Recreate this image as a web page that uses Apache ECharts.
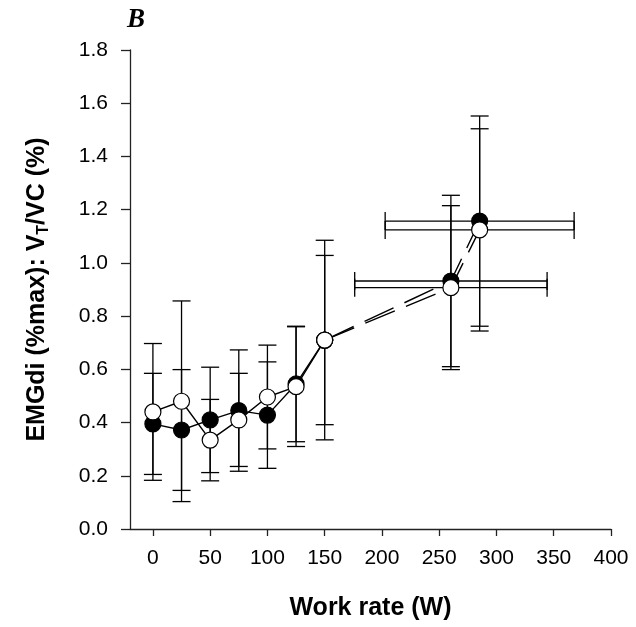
<!DOCTYPE html>
<html>
<head>
<meta charset="utf-8">
<script src="https://cdn.jsdelivr.net/npm/echarts@6/dist/echarts.min.js"></script>
<style>html,body{margin:0;padding:0;background:#fff}#box{width:636px;height:627px}</style>
</head>
<body>
<div id="box"></div>
<script>
// work rates of the incremental stages
var workRate = [0, 25, 50, 75, 100, 125, 150];
// filled circles
var filledMean = [0.395, 0.372, 0.41, 0.445, 0.428, 0.545, 0.71];
var filledSD = [0.19, 0.227, 0.198, 0.228, 0.2, 0.217, 0.318];
// open circles
var openMean = [0.44, 0.48, 0.334, 0.41, 0.496, 0.535, 0.71];
var openSD = [0.257, 0.377, 0.153, 0.175, 0.195, 0.225, 0.375];
// peak points (work rate with its own SD)
var peakX = [260.2, 285.3];
var peakXSD = [84, 82.5];
var peakFilledMean = [0.932, 1.157];
var peakFilledSD = [0.322, 0.395];
var peakOpenMean = [0.907, 1.124];
var peakOpenSD = [0.308, 0.38];
// axis ticks
var xTicks = [0, 50, 100, 150, 200, 250, 300, 350, 400];

var myChart = echarts.init(document.getElementById('box'));
var FONT = 'Liberation Sans, Arial, sans-serif';
var CAP = 9;

function vbar(params, api) {
    var x = api.value(0);
    var a = api.coord([x, api.value(1)]), b = api.coord([x, api.value(2)]);
    var st = {stroke: '#000', lineWidth: 1.3};
    return {type: 'group', children: [
        {type: 'line', shape: {x1: a[0], y1: a[1], x2: b[0], y2: b[1]}, style: st},
        {type: 'line', shape: {x1: a[0] - CAP, y1: a[1], x2: a[0] + CAP, y2: a[1]}, style: st},
        {type: 'line', shape: {x1: b[0] - CAP, y1: b[1], x2: b[0] + CAP, y2: b[1]}, style: st}
    ]};
}
function hbar(params, api) {
    var y = api.value(2);
    var a = api.coord([api.value(0), y]), b = api.coord([api.value(1), y]);
    var st = {stroke: '#000', lineWidth: 1.3};
    return {type: 'group', children: [
        {type: 'line', shape: {x1: a[0], y1: a[1], x2: b[0], y2: b[1]}, style: st},
        {type: 'line', shape: {x1: a[0], y1: a[1] - CAP, x2: a[0], y2: a[1] + CAP}, style: st},
        {type: 'line', shape: {x1: b[0], y1: b[1] - CAP, x2: b[0], y2: b[1] + CAP}, style: st}
    ]};
}

var vData = [], hData = [];
workRate.forEach(function (x, i) {
    vData.push([x, filledMean[i] - filledSD[i], filledMean[i] + filledSD[i]]);
    vData.push([x, openMean[i] - openSD[i], openMean[i] + openSD[i]]);
});
peakX.forEach(function (x, i) {
    vData.push([x, peakFilledMean[i] - peakFilledSD[i], peakFilledMean[i] + peakFilledSD[i]]);
    vData.push([x, peakOpenMean[i] - peakOpenSD[i], peakOpenMean[i] + peakOpenSD[i]]);
    hData.push([x - peakXSD[i], x + peakXSD[i], peakFilledMean[i]]);
    hData.push([x - peakXSD[i], x + peakXSD[i], peakOpenMean[i]]);
});

function pts(xs, ys) {
    return xs.map(function (x, i) { return [x, ys[i]]; });
}
var last = workRate.length - 1;
var filledSolid = pts(workRate, filledMean);
var openSolid = pts(workRate, openMean);
var filledDash = [[workRate[last], filledMean[last]]].concat(pts(peakX, peakFilledMean));
var openDash = [[workRate[last], openMean[last]]].concat(pts(peakX, peakOpenMean));

function lineSeries(data, fill, dashed) {
    return {
        type: 'line', data: data, symbol: 'circle', symbolSize: 16, showAllSymbol: true,
        animation: false, silent: true,
        lineStyle: {color: '#000', width: 1.4, type: dashed ? [32, 12] : 'solid'},
        itemStyle: {color: fill, borderColor: '#000', borderWidth: 1.2}
    };
}

var option = {
    animation: false,
    grid: {left: 130, right: 25, top: 50, bottom: 98, containLabel: false, outerBoundsMode: 'none'},
    graphic: [{
        type: 'text', left: 127, top: 7,
        style: {text: 'B', font: 'italic bold 27px "Liberation Serif", "Times New Roman", serif', fill: '#000'}
    }],
    xAxis: {
        type: 'value', min: -20, max: 400,
        name: 'Work rate (W)', nameLocation: 'middle', nameGap: 67,
        nameTextStyle: {fontFamily: FONT, fontWeight: 'bold', fontSize: 25, color: '#000'},
        axisLine: {show: true, onZero: false, lineStyle: {color: '#222', width: 1.3}},
        axisTick: {show: true, length: 7, customValues: xTicks, lineStyle: {color: '#222', width: 1.3}},
        axisLabel: {customValues: xTicks, margin: 19, fontFamily: FONT, fontSize: 21, color: '#000'},
        splitLine: {show: false}
    },
    yAxis: {
        type: 'value', min: 0, max: 1.8, interval: 0.2,
        name: '{a|EMGdi (%max): V}{s|T}{a|/VC (%)}', nameLocation: 'middle', nameGap: 78,
        nameTextStyle: {
            rich: {
                a: {fontFamily: FONT, fontWeight: 'bold', fontSize: 25, color: '#000', lineHeight: 30},
                s: {fontFamily: FONT, fontWeight: 'bold', fontSize: 16, color: '#000', lineHeight: 16, verticalAlign: 'bottom'}
            }
        },
        axisLine: {show: true, onZero: false, lineStyle: {color: '#222', width: 1.3}},
        axisTick: {show: true, length: 9, lineStyle: {color: '#222', width: 1.3}},
        axisLabel: {margin: 22, fontFamily: FONT, fontSize: 21, color: '#000',
            formatter: function (v) { return v.toFixed(1); }},
        splitLine: {show: false}
    },
    series: [
        {type: 'custom', renderItem: vbar, data: vData, silent: true, encode: {x: 0, y: [1, 2]}},
        {type: 'custom', renderItem: hbar, data: hData, silent: true, encode: {x: [0, 1], y: 2}},
        lineSeries(filledSolid, '#000', false),
        lineSeries(filledDash, '#000', true),
        lineSeries(openSolid, '#fff', false),
        lineSeries(openDash, '#fff', true)
    ]
};
myChart.setOption(option);
</script>
</body>
</html>
